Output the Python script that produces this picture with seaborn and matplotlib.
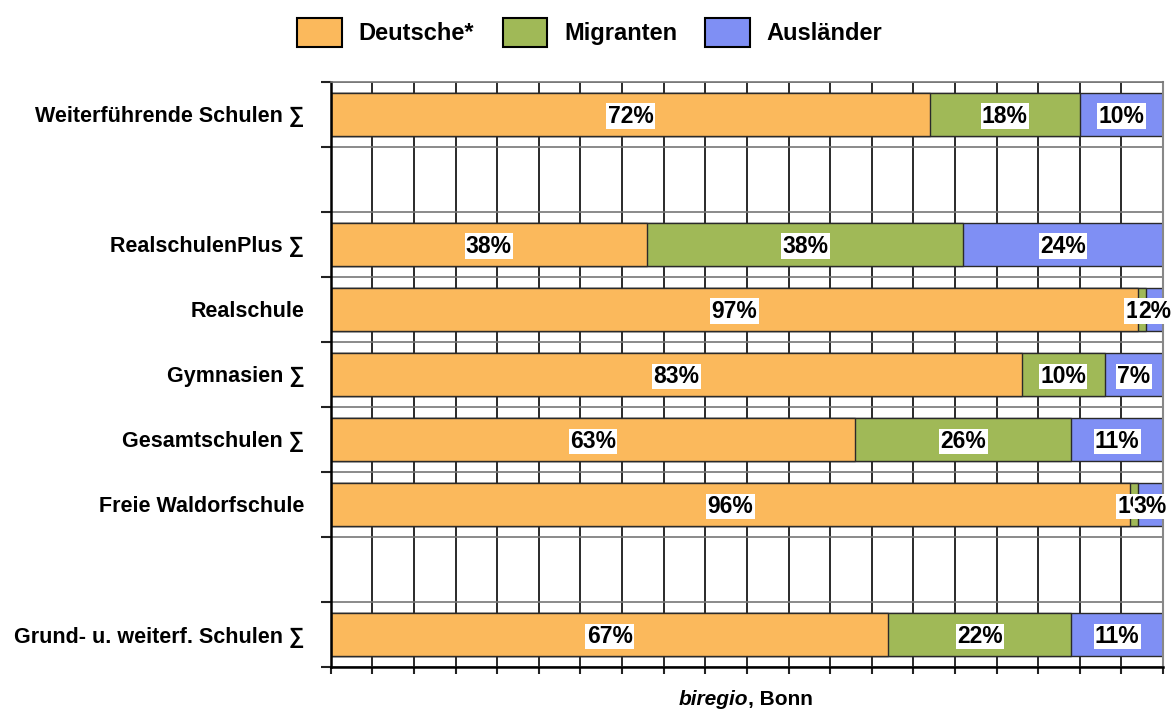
import numpy as np
import pandas as pd
import matplotlib
matplotlib.use("Agg")
import matplotlib.pyplot as plt
from matplotlib.patches import Patch
import seaborn as sns

# ---- data ----
row_order = ["Weiterführende Schulen ∑", "", "RealschulenPlus ∑", "Realschule",
             "Gymnasien ∑", "Gesamtschulen ∑", "Freie Waldorfschule", " ",
             "Grund- u. weiterf. Schulen ∑"]
categories = ["Weiterführende Schulen ∑", "RealschulenPlus ∑", "Realschule",
              "Gymnasien ∑", "Gesamtschulen ∑", "Freie Waldorfschule",
              "Grund- u. weiterf. Schulen ∑"]
deutsche = [72, 38, 97, 83, 63, 96, 67]
migranten = [18, 38, 1, 10, 26, 1, 22]
auslaender = [10, 24, 2, 7, 11, 3, 11]
series_names = ["Deutsche*", "Migranten", "Ausländer"]
colors = ["#FBB95C", "#A0B957", "#7F8FF4"]

sns.set_theme(style="white")
plt.rcParams["font.family"] = ["Liberation Sans", "DejaVu Sans"]
plt.rcParams["text.color"] = "black"
plt.rcParams["xtick.color"] = "black"
plt.rcParams["ytick.color"] = "black"
plt.rcParams["axes.labelcolor"] = "black"

df = pd.DataFrame({"cat": categories, "d": deutsche, "m": migranten, "a": auslaender})
df["cum_dm"] = df["d"] + df["m"]
df["cum_all"] = df["cum_dm"] + df["a"]

fig = plt.figure(figsize=(11.73, 7.18), dpi=100)
ax = fig.add_axes([0.282, 0.071, 0.7095, 0.815])

common = dict(y="cat", order=row_order, orient="h", width=0.66, saturation=1,
              edgecolor="#2a2a2a", linewidth=1.0, ax=ax, errorbar=None)
sns.barplot(data=df, x="cum_all", color=colors[2], **common)
sns.barplot(data=df, x="cum_dm", color=colors[1], **common)
sns.barplot(data=df, x="d", color=colors[0], **common)

# labels
for i, cat in enumerate(categories):
    pos = row_order.index(cat)
    starts = [0, deutsche[i], deutsche[i] + migranten[i]]
    vals = [deutsche[i], migranten[i], auslaender[i]]
    for s, v in zip(starts, vals):
        ax.text(s + v / 2, pos + 0.03, f"{v}%", ha="center", va="center",
                fontsize=16.5, fontweight="bold", color="black",
                bbox=dict(boxstyle="square,pad=0.06", fc="white", ec="none"))

ax.set_xlim(0, 100)
ax.set_ylim(len(row_order) - 0.5, -0.5)
ax.set_xticks(np.arange(0, 101, 5))
ax.set_xticklabels([])
ax.set_yticks(np.arange(-0.5, len(row_order), 1), minor=True)
ax.set_xlabel("")
ax.set_ylabel("")
ax.tick_params(axis="y", which="major", length=0, pad=19, labelsize=15.5, labelcolor="black")
for lab in ax.get_yticklabels():
    lab.set_fontweight("bold")
ax.tick_params(axis="y", which="minor", length=7, width=1.5, color="#222", direction="out", left=True)
ax.tick_params(axis="x", which="major", length=5, width=1.5, color="#222", direction="out", bottom=True)

ax.set_axisbelow(True)
ax.grid(axis="x", which="major", color="#2a2a2a", linewidth=1.4)
ax.grid(axis="y", which="minor", color="#777777", linewidth=1.2)

for side in ["left", "bottom"]:
    ax.spines[side].set_color("black")
    ax.spines[side].set_linewidth(1.8)
ax.spines["top"].set_color("#777777")
ax.spines["top"].set_linewidth(1.2)
ax.spines["right"].set_color("#888888")
ax.spines["right"].set_linewidth(1.5)

handles = [Patch(facecolor=c, edgecolor="black", linewidth=1.5) for c in colors]
fig.legend(handles, series_names, loc="center", bbox_to_anchor=(0.503, 0.955),
           ncol=3, frameon=False, prop=dict(size=17, weight="bold"),
           handlelength=1.9, handleheight=1.5, columnspacing=1.2, handletextpad=0.7)

fig.text(0.6375, 0.012, "biregio", ha="right", va="bottom", fontsize=15,
         fontweight="bold", fontstyle="italic")
fig.text(0.6375, 0.012, ", Bonn", ha="left", va="bottom", fontsize=15,
         fontweight="bold")

fig.savefig("out.png", dpi=100)
